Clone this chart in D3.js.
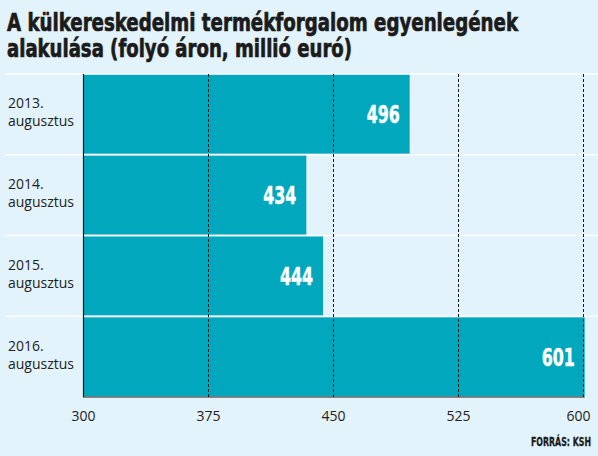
<!DOCTYPE html>
<html>
<head>
<meta charset="utf-8">
<script src="https://cdn.jsdelivr.net/npm/d3@7"></script>
<style>
  html, body { margin: 0; padding: 0; background: #e3f3fb; }
  svg { display: block; }
</style>
</head>
<body>
<script>
// data
let periods = ["2013.|augusztus", "2014.|augusztus", "2015.|augusztus", "2016.|augusztus"];
let values = [496, 434, 444, 601];
let tickValues = [300, 375, 450, 525, 600];
let titleLines = ["A külkereskedelmi termékforgalom egyenlegének", "alakulása (folyó áron, millió euró)"];
let sourceText = "FORRÁS: KSH";

let w = 598;
let h = 456;
let plotLeft = 83;
let plotRight = 583;
let plotTop = 74;
let plotBottom = 397;

const bgColor = "#e3f3fb";
const barColor = "#00a7bd";
const condensed = "'Liberation Sans Narrow', 'DejaVu Sans Condensed', 'Arial Narrow', sans-serif";

let svg = d3.select("body").append("svg").attr("width", w).attr("height", h);

svg.append("rect").attr("width", w).attr("height", h).attr("fill", bgColor);

// title
let titleWidths = [511, 345];
svg.selectAll("text.title")
  .data(titleLines)
  .enter()
  .append("text")
  .attr("class", "title")
  .attr("x", 7)
  .attr("y", (d, i) => 31 + i * 26)
  .attr("font-family", condensed)
  .attr("font-weight", "bold")
  .attr("font-size", "25px")
  .attr("fill", "#1b1b1b")
  .attr("stroke", "#1b1b1b")
  .attr("stroke-width", 0.7)
  .attr("textLength", (d, i) => titleWidths[i])
  .attr("lengthAdjust", "spacingAndGlyphs")
  .text((d) => d);

let xScale = d3.scaleLinear().domain([300, 600]).range([plotLeft, plotRight]);
let yScale = d3.scaleBand().domain(periods).range([plotTop, plotBottom]).paddingInner(0.025).paddingOuter(0.01);

// row separators (white)
let step = (plotBottom - plotTop) / periods.length;
svg.selectAll("line.sep")
  .data(d3.range(periods.length))
  .enter()
  .append("line")
  .attr("class", "sep")
  .attr("x1", 5)
  .attr("x2", w)
  .attr("y1", (d) => plotTop + d * step)
  .attr("y2", (d) => plotTop + d * step)
  .attr("stroke", "#ffffff")
  .attr("stroke-width", 1.5);

// bars
svg.selectAll("rect.bar")
  .data(values)
  .enter()
  .append("rect")
  .attr("class", "bar")
  .attr("x", xScale(300))
  .attr("y", (d, i) => yScale(periods[i]))
  .attr("width", (d) => xScale(d) - xScale(300))
  .attr("height", yScale.bandwidth())
  .attr("fill", barColor);

// dashed gridlines drawn over bars
svg.selectAll("line.grid")
  .data(tickValues.slice(1))
  .enter()
  .append("line")
  .attr("class", "grid")
  .attr("x1", (d) => Math.round(xScale(d)) + 0.5)
  .attr("x2", (d) => Math.round(xScale(d)) + 0.5)
  .attr("y1", plotTop)
  .attr("y2", plotBottom)
  .attr("stroke", "#1a1a1a")
  .attr("stroke-width", 1)
  .attr("stroke-dasharray", "3,2");

// axis lines
svg.append("line")
  .attr("x1", plotLeft + 0.5).attr("x2", plotLeft + 0.5)
  .attr("y1", plotTop).attr("y2", plotBottom)
  .attr("stroke", "#1a1a1a").attr("stroke-width", 1.2);
svg.append("line")
  .attr("x1", plotLeft).attr("x2", xScale(601))
  .attr("y1", plotBottom).attr("y2", plotBottom)
  .attr("stroke", "#1a1a1a").attr("stroke-width", 1.2);

// value labels
svg.selectAll("text.val")
  .data(values)
  .enter()
  .append("text")
  .attr("class", "val")
  .attr("x", (d) => xScale(d) - 10)
  .attr("y", (d, i) => yScale(periods[i]) + yScale.bandwidth() / 2 + 9)
  .attr("text-anchor", "end")
  .attr("font-family", condensed)
  .attr("font-weight", "bold")
  .attr("font-size", "24px")
  .attr("fill", "#ffffff")
  .attr("stroke", "#ffffff")
  .attr("stroke-width", 0.5)
  .attr("textLength", 33)
  .attr("lengthAdjust", "spacingAndGlyphs")
  .text((d) => d);

// category labels
let cat = svg.selectAll("text.cat")
  .data(periods)
  .enter()
  .append("text")
  .attr("class", "cat")
  .attr("font-family", "'Open Sans', 'Noto Sans', sans-serif")
  .attr("font-size", "14px")
  .attr("fill", "#222");
cat.selectAll("tspan")
  .data((d) => d.split("|").map((t, j) => ({ t: t, j: j, p: d })))
  .enter()
  .append("tspan")
  .attr("x", 8)
  .attr("y", (d) => yScale(d.p) + yScale.bandwidth() / 2 - 6 + d.j * 18)
  .text((d) => d.t);

// x tick labels
const xAxis = d3.axisBottom(xScale).tickValues(tickValues).tickSize(0).tickPadding(14);
let gx = svg.append("g")
  .attr("transform", "translate(0," + plotBottom + ")")
  .call(xAxis);
gx.select(".domain").remove();
gx.selectAll("text")
  .attr("font-family", "'Open Sans', 'Noto Sans', sans-serif")
  .attr("font-size", "14px")
  .attr("fill", "#222")
  .attr("dx", (d) => d === 600 ? "-5px" : 0);

// source
svg.append("text")
  .attr("x", 591)
  .attr("y", 446)
  .attr("text-anchor", "end")
  .attr("font-family", condensed)
  .attr("font-weight", "bold")
  .attr("font-size", "12px")
  .attr("fill", "#1b1b1b")
  .attr("stroke", "#1b1b1b")
  .attr("stroke-width", 0.3)
  .attr("textLength", 60)
  .attr("lengthAdjust", "spacingAndGlyphs")
  .text(sourceText);
</script>
</body>
</html>
